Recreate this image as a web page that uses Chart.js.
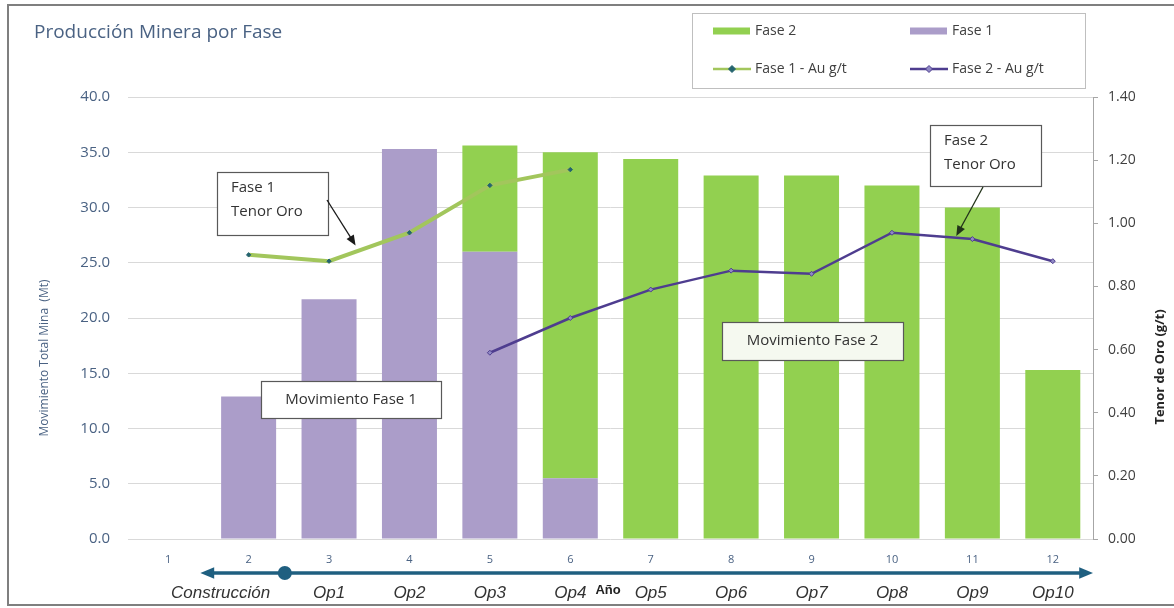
<!DOCTYPE html>
<html lang="es">
<head>
<meta charset="utf-8">
<title>Producción Minera por Fase</title>
<script src="https://cdn.jsdelivr.net/npm/chart.js@4.4.1/dist/chart.umd.min.js"></script>
<style>
  html, body { margin: 0; padding: 0; background: #fff; }
  canvas { display: block; }
</style>
</head>
<body>
<canvas id="produccion" width="1174" height="608"></canvas>
<script>
// años del plan y etapa de cada año
const anios = ["1", "2", "3", "4", "5", "6", "7", "8", "9", "10", "11", "12"];
const etapas = ["", "Construcción", "Op1", "Op2", "Op3", "Op4", "Op5", "Op6", "Op7", "Op8", "Op9", "Op10"];

// movimiento total mina (Mt)
const fase1Mt = [null, 12.9, 21.7, 35.3, 26.0, 5.5, null, null, null, null, null, null];
const fase2Mt = [null, null, null, null, 9.6, 29.5, 34.4, 32.9, 32.9, 32.0, 30.0, 15.3];

// tenor de oro (g/t)
const fase1Au = [null, 0.90, 0.88, 0.97, 1.12, 1.17, null, null, null, null, null, null];
const fase2Au = [null, null, null, null, 0.59, 0.70, 0.79, 0.85, 0.84, 0.97, 0.95, 0.88];

const verde = "#92d050";
const lila = "#ab9dc9";
const lineaF1 = "#a2c65c";
const lineaF2 = "#4e3d8f";
const azulTexto = "#4a6283";

Chart.defaults.font.family = "'Open Sans', sans-serif";
Chart.defaults.color = "#404040";

function flecha(ctx, x1, y1, x2, y2, color, grosor, punta) {
  const ang = Math.atan2(y2 - y1, x2 - x1);
  ctx.save();
  ctx.strokeStyle = color;
  ctx.fillStyle = color;
  ctx.lineWidth = grosor;
  ctx.beginPath();
  ctx.moveTo(x1, y1);
  ctx.lineTo(x2 - punta * 0.8 * Math.cos(ang), y2 - punta * 0.8 * Math.sin(ang));
  ctx.stroke();
  ctx.beginPath();
  ctx.moveTo(x2, y2);
  ctx.lineTo(x2 - punta * Math.cos(ang - 0.4), y2 - punta * Math.sin(ang - 0.4));
  ctx.lineTo(x2 - punta * Math.cos(ang + 0.4), y2 - punta * Math.sin(ang + 0.4));
  ctx.closePath();
  ctx.fill();
  ctx.restore();
}

function caja(ctx, x, y, w, h, lineas, fondo, centrado) {
  ctx.save();
  ctx.fillStyle = fondo;
  ctx.fillRect(x, y, w, h);
  ctx.strokeStyle = "#595959";
  ctx.lineWidth = 1.2;
  ctx.strokeRect(x + 0.5, y + 0.5, w, h);
  ctx.fillStyle = "#333";
  ctx.font = "15px 'Open Sans'";
  ctx.textBaseline = "middle";
  ctx.textAlign = centrado ? "center" : "left";
  lineas.forEach((t, i) => {
    const ty = lineas.length === 1 ? y + h / 2 : y + 16 + i * 24;
    ctx.fillText(t, centrado ? x + w / 2 : x + 14, ty);
  });
  ctx.restore();
}

function rombo(ctx, x, y, r, fill, stroke) {
  ctx.beginPath();
  ctx.moveTo(x, y - r); ctx.lineTo(x + r, y); ctx.lineTo(x, y + r); ctx.lineTo(x - r, y);
  ctx.closePath();
  ctx.fillStyle = fill; ctx.fill();
  ctx.strokeStyle = stroke; ctx.lineWidth = 1; ctx.stroke();
}

const decorado = {
  id: "decorado",
  beforeDraw(chart) {
    const ctx = chart.ctx;
    ctx.save();
    ctx.fillStyle = "#fff";
    ctx.fillRect(0, 0, chart.width, chart.height);
    // marco
    ctx.strokeStyle = "#7f7f7f";
    ctx.lineWidth = 2;
    ctx.beginPath();
    ctx.moveTo(chart.width, 5); ctx.lineTo(8, 5); ctx.lineTo(8, 605); ctx.lineTo(chart.width, 605);
    ctx.stroke();
    // título
    ctx.fillStyle = azulTexto;
    ctx.font = "19px 'Open Sans'";
    ctx.textBaseline = "middle";
    ctx.fillText("Producción Minera por Fase", 34, 33);
    // títulos de ejes
    ctx.font = "12px 'Open Sans'";
    ctx.textAlign = "center";
    ctx.translate(45, 358);
    ctx.rotate(-Math.PI / 2);
    ctx.fillText("Movimiento Total Mina  (Mt)", 0, 0);
    ctx.restore();
    ctx.save();
    ctx.fillStyle = "#262626";
    ctx.font = "bold 13px 'Open Sans'";
    ctx.textAlign = "center";
    ctx.textBaseline = "middle";
    ctx.translate(1160, 367);
    ctx.rotate(-Math.PI / 2);
    ctx.fillText("Tenor de Oro (g/t)", 0, 0);
    ctx.restore();
  },
  afterDraw(chart) {
    const ctx = chart.ctx;
    const x = chart.scales.x;
    const y1 = chart.scales.y1;

    // leyenda
    ctx.save();
    ctx.fillStyle = "#fff";
    ctx.fillRect(692, 13, 393, 75);
    ctx.strokeStyle = "#bfbfbf";
    ctx.lineWidth = 1;
    ctx.strokeRect(692.5, 13.5, 393, 75);
    const cols = [713, 910], filas = [31, 69];
    chart.data.datasets.forEach((ds, i) => {
      const lx = cols[i % 2], ly = filas[Math.floor(i / 2)];
      if (ds.type === "line") {
        ctx.strokeStyle = ds.borderColor;
        ctx.lineWidth = 2.5;
        ctx.beginPath(); ctx.moveTo(lx, ly); ctx.lineTo(lx + 38, ly); ctx.stroke();
        rombo(ctx, lx + 19, ly, 3.5, ds.pointBackgroundColor, ds.pointBorderColor);
      } else {
        ctx.fillStyle = ds.backgroundColor;
        ctx.fillRect(lx, ly - 3.5, 37, 7);
      }
      ctx.fillStyle = "#404040";
      ctx.font = "14px 'Open Sans'";
      ctx.textBaseline = "middle";
      ctx.textAlign = "left";
      ctx.fillText(ds.label, lx + 42, ly);
    });
    ctx.restore();

    // notas sobre el gráfico
    caja(ctx, 217, 172, 111, 63, ["Fase 1", "Tenor Oro"], "#fff", false);
    flecha(ctx, 327, 200, x.getPixelForValue(2.33), y1.getPixelForValue(0.93), "#1a1a1a", 1.3, 11);
    caja(ctx, 261, 381, 180, 37, ["Movimiento Fase 1"], "#fff", true);
    caja(ctx, 722, 322, 181, 38, ["Movimiento Fase 2"], "#f5f9f0", true);
    caja(ctx, 930, 125, 111, 61, ["Fase 2", "Tenor Oro"], "#fff", false);
    flecha(ctx, 983, 187, x.getPixelForValue(9.8), y1.getPixelForValue(0.96), "#22331a", 1.3, 11);

    // línea de tiempo: construcción / operación
    const ly = 573;
    const azul = "#1f5f80";
    const xIni = x.getPixelForValue(0.4);
    const xHito = x.getPixelForValue(1.45);
    const xFin = chart.chartArea.right;
    flecha(ctx, xHito, ly, xIni, ly, azul, 3.5, 15);
    flecha(ctx, xHito, ly, xFin, ly, azul, 3.5, 15);
    ctx.save();
    ctx.fillStyle = azul;
    ctx.beginPath(); ctx.arc(xHito, ly, 7, 0, Math.PI * 2); ctx.fill();
    ctx.fillStyle = "#333";
    ctx.font = "italic 17px 'Liberation Sans'";
    ctx.textBaseline = "middle";
    ctx.textAlign = "center";
    etapas.forEach((t, i) => {
      if (!t) return;
      let px = x.getPixelForValue(i);
      if (i === 1) px -= 28;
      ctx.fillText(t, px, 593);
    });
    ctx.font = "bold 13px 'Liberation Sans'";
    ctx.fillStyle = "#222";
    ctx.fillText("Año", x.getPixelForValue(5.47), 590);
    ctx.restore();
  }
};

new Chart(document.getElementById("produccion"), {
  data: {
    labels: anios,
    datasets: [
      { type: "bar", label: "Fase 2", data: fase2Mt, backgroundColor: verde, yAxisID: "y", stack: "mt", order: 3,
        categoryPercentage: 1, barPercentage: 0.684 },
      { type: "bar", label: "Fase 1", data: fase1Mt, backgroundColor: lila, yAxisID: "y", stack: "mt", order: 2,
        categoryPercentage: 1, barPercentage: 0.684 },
      { type: "line", label: "Fase 1 - Au g/t", data: fase1Au, yAxisID: "y1", order: 1,
        borderColor: lineaF1, borderWidth: 4, tension: 0,
        pointStyle: "rectRot", pointRadius: 2.2, pointBorderWidth: 1,
        pointBackgroundColor: "#24636f", pointBorderColor: "#24636f" },
      { type: "line", label: "Fase 2 - Au g/t", data: fase2Au, yAxisID: "y1", order: 0,
        borderColor: lineaF2, borderWidth: 2.5, tension: 0,
        pointStyle: "rectRot", pointRadius: 2.5, pointBorderWidth: 1,
        pointBackgroundColor: "#8f88c4", pointBorderColor: lineaF2 }
    ]
  },
  options: {
    responsive: false,
    animation: false,
    layout: { padding: { top: 97, left: 0, right: 0, bottom: 0 } },
    plugins: { legend: { display: false }, title: { display: false }, tooltip: { enabled: false } },
    scales: {
      x: {
        stacked: true,
        grid: { display: false, drawTicks: false },
        border: { display: false },
        ticks: { color: azulTexto, font: { size: 11 }, padding: 14 },
        afterFit: s => { s.height = 69; }
      },
      y: {
        stacked: true,
        position: "left",
        min: 0, max: 40,
        grid: { color: "#d9d9d9", drawTicks: false },
        border: { display: false },
        ticks: { stepSize: 5, color: azulTexto, font: { size: 15 }, padding: 18, callback: v => v.toFixed(1) },
        afterFit: s => { s.width = 128; }
      },
      y1: {
        position: "right",
        min: 0, max: 1.4,
        grid: { drawOnChartArea: false, color: "#a6a6a6", tickLength: 5 },
        border: { display: true, color: "#a6a6a6" },
        ticks: { stepSize: 0.2, color: "#404040", font: { size: 14 }, padding: 10, callback: v => v.toFixed(2) },
        afterFit: s => { s.width = 81; }
      }
    }
  },
  plugins: [decorado]
});
</script>
</body>
</html>
